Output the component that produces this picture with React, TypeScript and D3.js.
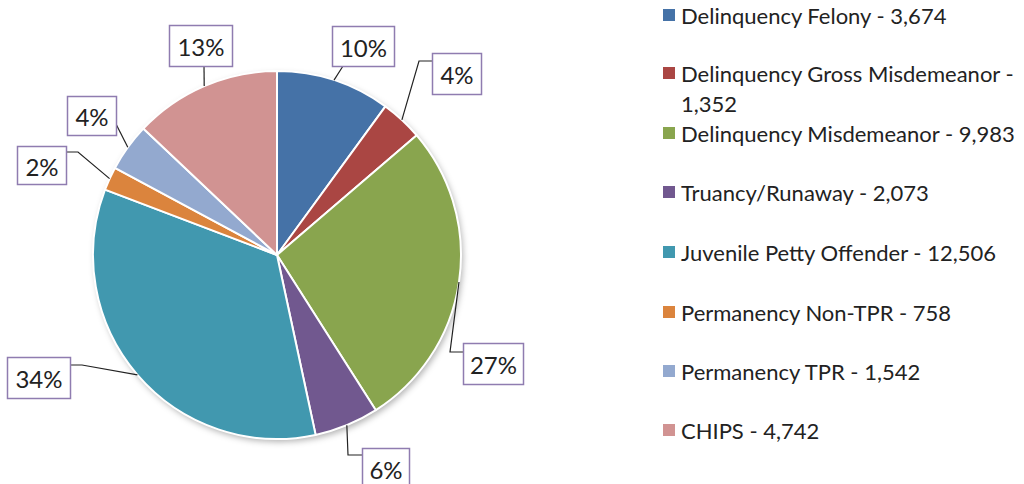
import React, { useEffect, useRef } from 'react';
import * as d3 from 'd3';

const categories = [
  'Delinquency Felony',
  'Delinquency Gross Misdemeanor',
  'Delinquency Misdemeanor',
  'Truancy/Runaway',
  'Juvenile Petty Offender',
  'Permanency Non-TPR',
  'Permanency TPR',
  'CHIPS',
];
const counts = [3674, 1352, 9983, 2073, 12506, 758, 1542, 4742];
const colors = ['#4572A7', '#AA4643', '#89A54E', '#71588F', '#4198AF', '#DB843D', '#93A9CF', '#D19392'];

// label boxes and leader elbows, placed the way the original chart placed them
const labelLayout = [
  { box: [332, 26, 62, 40], path: [[343, 66], [355, 66]] },
  { box: [432, 53, 49, 41], path: [[419, 61], [432, 61]] },
  { box: [463, 343, 60, 41], path: [[450, 352], [463, 352]] },
  { box: [362, 448, 47, 40], path: [[348, 455], [362, 455]] },
  { box: [7, 357, 63, 41], path: [[82, 365], [70, 365]] },
  { box: [17, 146, 49, 38], path: [[78, 152], [66, 152]] },
  { box: [67, 96, 49, 39], path: [[116, 124]] },
  { box: [169, 25, 63, 41], path: [[204, 66]] },
];

const FONT = 'Lato, "Open Sans", sans-serif';

const App = () => {
  const svgRef = useRef<SVGSVGElement>(null);

  useEffect(() => {
    const svg = d3.select(svgRef.current);
    svg.selectAll('*').remove();

    const width = 1024;
    const height = 484;
    const cx = 277;
    const cy = 255;
    const r = 184;

    const defs = svg.append('defs');
    const f = defs.append('filter').attr('id', 'shadow').attr('x', '-10%').attr('y', '-10%').attr('width', '125%').attr('height', '125%');
    f.append('feDropShadow').attr('dx', 2).attr('dy', 3).attr('stdDeviation', 3).attr('flood-color', '#000').attr('flood-opacity', 0.3);

    svg.append('rect').attr('width', width).attr('height', height).attr('fill', '#fff');

    const total = d3.sum(counts);
    const pie = d3.pie<number>().sort(null).value(d => d);
    const arcs = pie(counts);
    const arc = d3.arc<d3.PieArcDatum<number>>().innerRadius(0).outerRadius(r);
    const edge = d3.arc<d3.PieArcDatum<number>>().innerRadius(r).outerRadius(r);

    const g = svg.append('g').attr('transform', `translate(${cx},${cy})`);
    g.append('circle').attr('r', r).attr('fill', '#fff').attr('filter', 'url(#shadow)');
    g.selectAll('path.slice')
      .data(arcs)
      .enter().append('path')
      .attr('class', 'slice')
      .attr('d', arc)
      .attr('fill', (_, i) => colors[i])
      .attr('stroke', '#fff')
      .attr('stroke-width', 2)
      .attr('stroke-linejoin', 'round');

    const labels = svg.append('g');
    arcs.forEach((a, i) => {
      const [px, py] = edge.centroid(a);
      const lay = labelLayout[i];
      const pts: [number, number][] = [[cx + px, cy + py], ...(lay.path as [number, number][])];
      labels.append('path')
        .attr('d', d3.line()(pts))
        .attr('fill', 'none')
        .attr('stroke', '#222')
        .attr('stroke-width', 1.2);
      const [bx, by, bw, bh] = lay.box;
      labels.append('rect')
        .attr('x', bx + 0.5).attr('y', by + 0.5)
        .attr('width', bw).attr('height', bh)
        .attr('fill', '#fff')
        .attr('stroke', '#8F7CB0')
        .attr('stroke-width', 1.5);
      labels.append('text')
        .attr('x', bx + bw / 2 + 0.5)
        .attr('y', by + bh / 2 + 1)
        .attr('text-anchor', 'middle')
        .attr('dominant-baseline', 'central')
        .attr('font-family', FONT)
        .attr('font-size', 24)
        .attr('fill', '#222')
        .text(`${Math.round((a.data / total) * 100)}%`);
    });

    // legend
    const legendRows = [15, 73, 133, 192, 252, 312, 371, 430];
    const fmt = d3.format(',');
    const legend = svg.append('g').attr('font-family', FONT).attr('font-size', 22).attr('fill', '#222');
    categories.forEach((c, i) => {
      const y = legendRows[i];
      legend.append('rect')
        .attr('x', 663).attr('y', y - 6)
        .attr('width', 12).attr('height', 12)
        .attr('fill', colors[i]);
      const t = legend.append('text')
        .attr('x', 681)
        .attr('y', y)
        .attr('dominant-baseline', 'central');
      const label = `${c} - ${fmt(counts[i])}`;
      if (c === 'Delinquency Gross Misdemeanor') {
        t.append('tspan').attr('x', 681).text(`${c} -`);
        t.append('tspan').attr('x', 681).attr('dy', 30).text(fmt(counts[i]));
      } else {
        t.text(label);
      }
    });
  }, []);

  return (
    <svg
      ref={svgRef}
      width={1024}
      height={484}
      style={{ position: 'absolute', left: 0, top: 0, display: 'block' }}
    />
  );
};

export default App;
